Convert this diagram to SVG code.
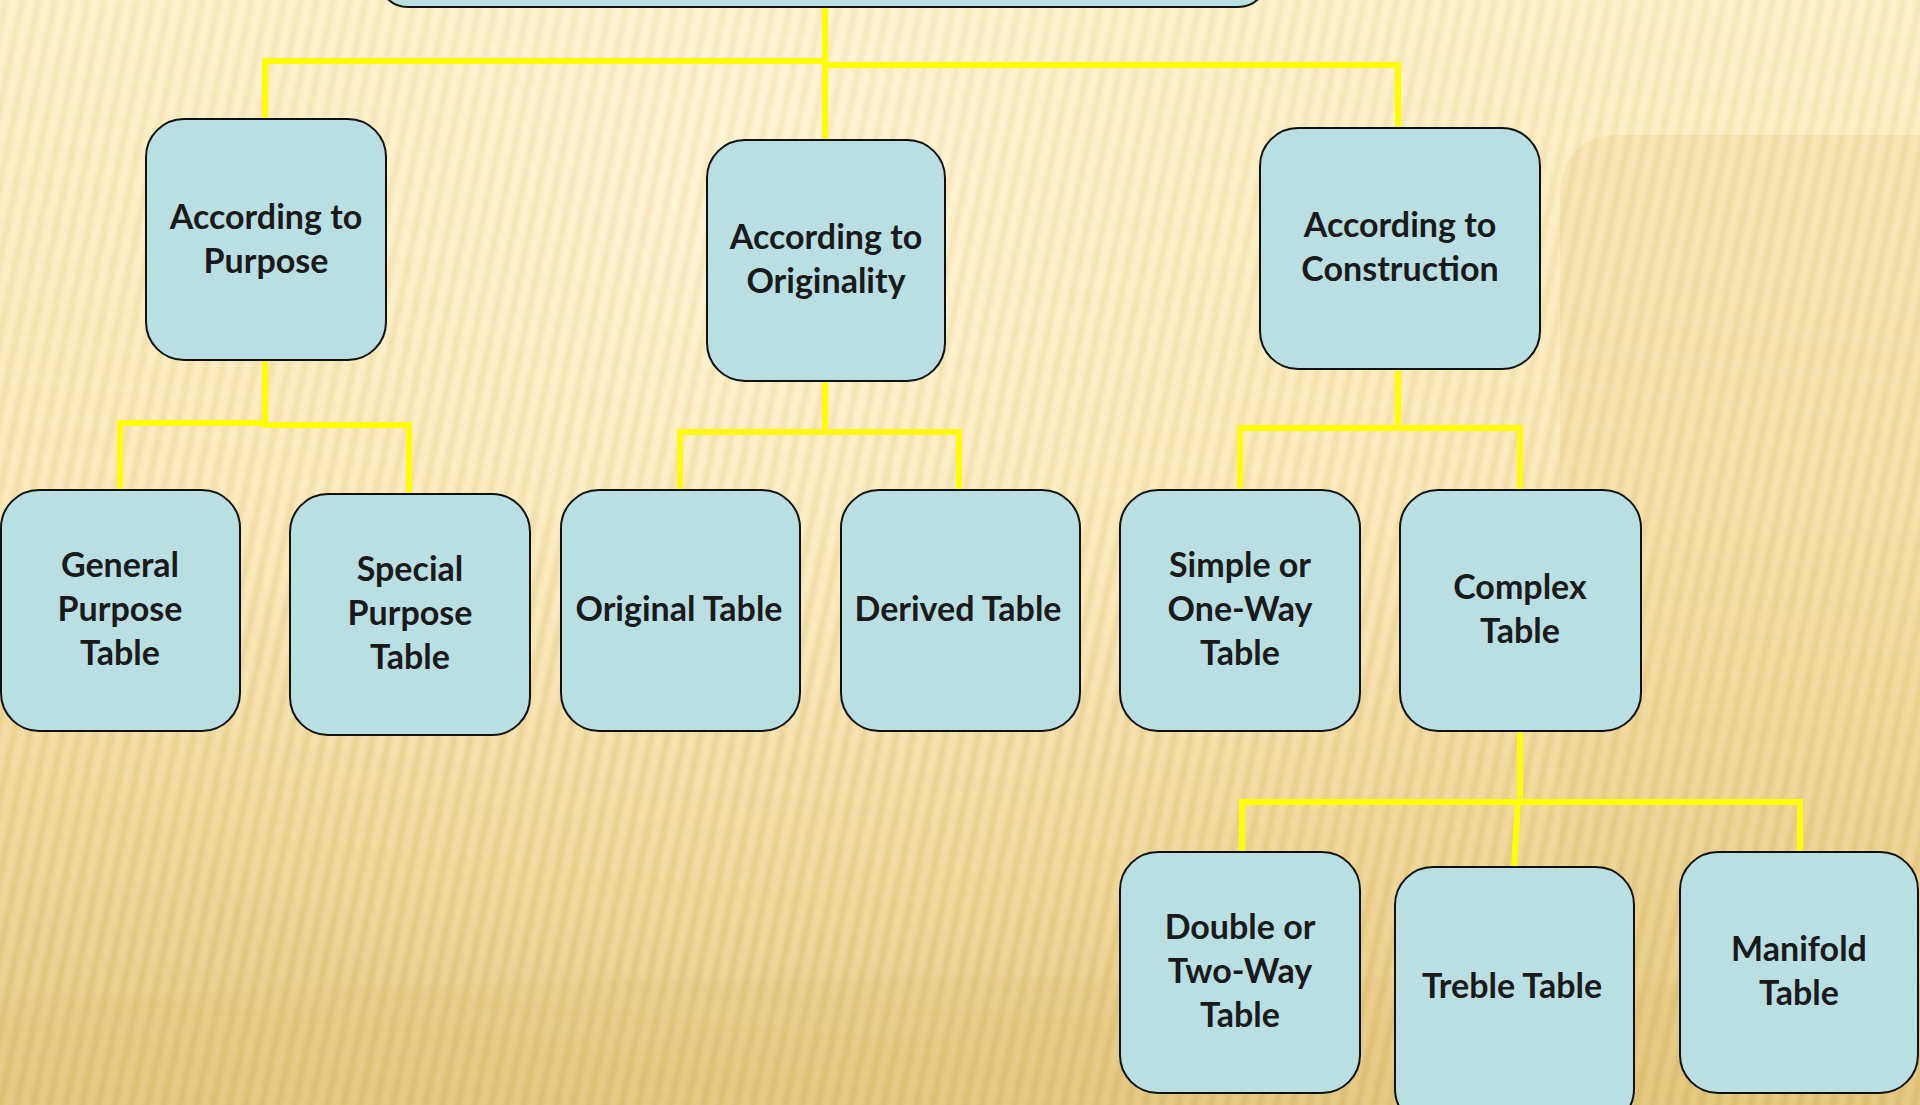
<svg xmlns="http://www.w3.org/2000/svg" width="1920" height="1105" viewBox="0 0 1920 1105">
<defs>
<linearGradient id="bg" x1="0" y1="0" x2="0" y2="1">
<stop offset="0" stop-color="#fef2cc"/>
<stop offset="0.45" stop-color="#fbe9b9"/>
<stop offset="0.75" stop-color="#f1d99d"/>
<stop offset="1" stop-color="#e7cc88"/>
</linearGradient>
<radialGradient id="glow" cx="760" cy="180" r="900" gradientUnits="userSpaceOnUse">
<stop offset="0" stop-color="#fff6d8" stop-opacity="0.9"/>
<stop offset="0.5" stop-color="#fff3d0" stop-opacity="0.35"/>
<stop offset="1" stop-color="#fff3d0" stop-opacity="0"/>
</radialGradient>
<linearGradient id="rightShade" x1="0" y1="0" x2="0" y2="1">
<stop offset="0" stop-color="#d8b458" stop-opacity="0.16"/>
<stop offset="1" stop-color="#d8b458" stop-opacity="0.06"/>
</linearGradient>
<linearGradient id="soft" x1="0" y1="0" x2="1" y2="0">
<stop offset="0" stop-color="#c9a24a" stop-opacity="0"/>
<stop offset="0.5" stop-color="#c9a24a" stop-opacity="1"/>
<stop offset="1" stop-color="#c9a24a" stop-opacity="0"/>
</linearGradient>
<pattern id="stripes" width="16" height="40" patternUnits="userSpaceOnUse" patternTransform="rotate(12)">
<rect x="0" y="0" width="12" height="40" fill="url(#soft)"/>
</pattern>
<linearGradient id="stripeFade" x1="0" y1="0" x2="0" y2="1">
<stop offset="0" stop-color="#fff" stop-opacity="0.14"/>
<stop offset="0.5" stop-color="#fff" stop-opacity="0.20"/>
<stop offset="1" stop-color="#fff" stop-opacity="0.32"/>
</linearGradient>
<mask id="stripeMask">
<rect width="1920" height="1105" fill="url(#stripeFade)"/>
</mask>
</defs>
<style>
.node rect { fill: #b9dfe3; stroke: #111; stroke-width: 2; }
.node text { font-family: Lato, "Liberation Sans", sans-serif; font-weight: 700; font-size: 34px; fill: #1a1a1a; text-anchor: middle; dominant-baseline: central; }
.conn path { fill: none; stroke: #ffff00; stroke-width: 6; stroke-linejoin: miter; stroke-linecap: butt; }
</style>

<!-- background -->
<rect width="1920" height="1105" fill="url(#bg)"/>
<rect width="1920" height="1105" fill="url(#glow)"/>
<path d="M1580 135 H1920 V1105 H1560 V200 Q1560 135 1620 135 Z" fill="url(#rightShade)"/>
<path d="M0 1000 Q900 960 1920 990 V1105 H0 Z" fill="#d8b458" fill-opacity="0.08"/>
<rect width="1920" height="1105" fill="url(#stripes)" mask="url(#stripeMask)"/>

<!-- connectors -->
<g id="connectors" class="conn">
<path d="M825 7 V140"/>
<path d="M825 61 H265 V119"/>
<path d="M825 65 H1398 V127"/>
<path d="M120 490 V423 H265"/>
<path d="M265 360 V425 H409 V494"/>
<path d="M825 381 V432"/>
<path d="M680 490 V432 H959 V490"/>
<path d="M1398 369 V428"/>
<path d="M1240 490 V428 H1520 V490"/>
<path d="M1520 731 V802"/>
<path d="M1242 852 V802 H1800 V852"/>
<path d="M1518 802 L1514 867"/>
</g>

<!-- nodes -->
<g id="root" class="node"><rect x="378" y="-100" width="890" height="107" rx="30"/></g>

<g id="purpose" class="node"><rect x="146" y="119" width="240" height="241" rx="38"/>
<text x="266" y="215">According to</text><text x="266" y="259">Purpose</text></g>

<g id="originality" class="node"><rect x="707" y="140" width="238" height="241" rx="38"/>
<text x="826" y="235">According to</text><text x="826" y="279">Originality</text></g>

<g id="construction" class="node"><rect x="1260" y="128" width="280" height="241" rx="38"/>
<text x="1400" y="223">According to</text><text x="1400" y="267">Construction</text></g>

<g id="general" class="node"><rect x="1" y="490" width="239" height="241" rx="38"/>
<text x="120" y="563">General</text><text x="120" y="607">Purpose</text><text x="120" y="651">Table</text></g>

<g id="special" class="node"><rect x="290" y="494" width="240" height="241" rx="38"/>
<text x="410" y="567">Special</text><text x="410" y="611">Purpose</text><text x="410" y="655">Table</text></g>

<g id="original" class="node"><rect x="561" y="490" width="239" height="241" rx="38"/>
<text x="679" y="607">Original Table</text></g>

<g id="derived" class="node"><rect x="841" y="490" width="239" height="241" rx="38"/>
<text x="958" y="607">Derived Table</text></g>

<g id="simple" class="node"><rect x="1120" y="490" width="240" height="241" rx="38"/>
<text x="1240" y="563">Simple or</text><text x="1240" y="607">One-Way</text><text x="1240" y="651">Table</text></g>

<g id="complex" class="node"><rect x="1400" y="490" width="241" height="241" rx="38"/>
<text x="1520" y="585">Complex</text><text x="1520" y="629">Table</text></g>

<g id="double" class="node"><rect x="1120" y="852" width="240" height="241" rx="38"/>
<text x="1240" y="925">Double or</text><text x="1240" y="969">Two-Way</text><text x="1240" y="1013">Table</text></g>

<g id="treble" class="node"><rect x="1395" y="867" width="239" height="260" rx="38"/>
<text x="1512" y="984">Treble Table</text></g>

<g id="manifold" class="node"><rect x="1680" y="852" width="238" height="241" rx="38"/>
<text x="1799" y="947">Manifold</text><text x="1799" y="991">Table</text></g>
</svg>
